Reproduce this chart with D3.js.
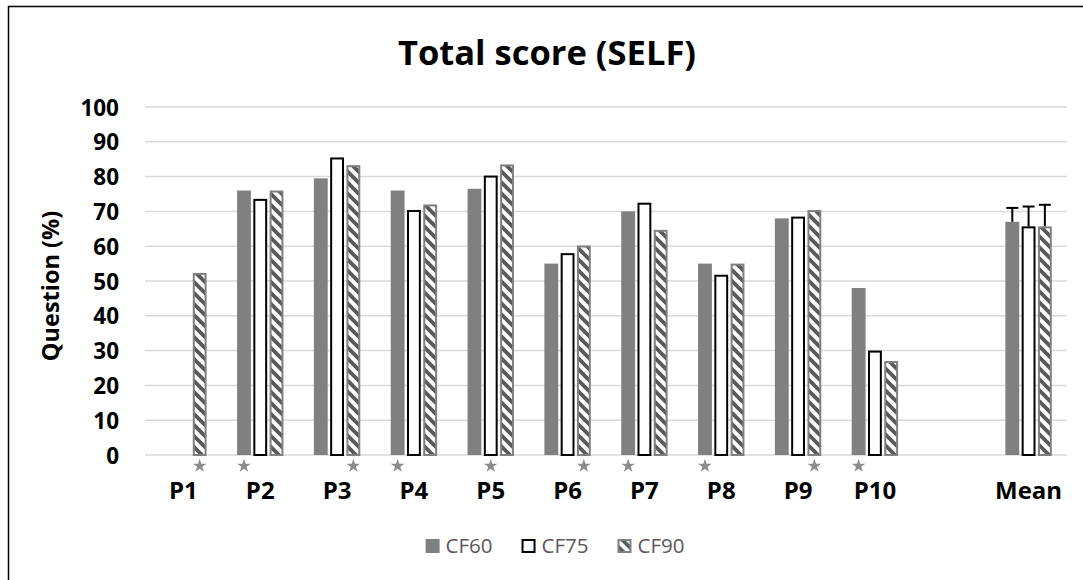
<!DOCTYPE html>
<html>
<head>
<meta charset="utf-8">
<script src="https://cdn.jsdelivr.net/npm/d3@7"></script>
<style>
  html, body { margin: 0; padding: 0; background: #fff; }
  svg { display: block; font-family: "Open Sans", "Noto Sans", sans-serif; }
</style>
</head>
<body>
<svg id="chart" width="1083" height="580"></svg>
<script>
// Question groups (an empty slot separates P10 from the mean)
const categories = ["P1", "P2", "P3", "P4", "P5", "P6", "P7", "P8", "P9", "P10", "", "Mean"];
const seriesNames = ["CF60", "CF75", "CF90"];

// Scores (%) per question; null where no bar is drawn
const cf60 = [null, 76.0, 79.5, 76.0, 76.5, 55.0, 70.0, 55.0, 68.0, 48.0, null, 67.0];
const cf75 = [null, 73.6, 85.5, 70.4, 80.3, 58.0, 72.5, 51.8, 68.5, 30.0, null, 65.7];
const cf90 = [52.3, 76.0, 83.3, 72.0, 83.5, 60.2, 64.7, 55.0, 70.4, 27.0, null, 65.7];

// Upper error on the mean bars
const meanError = [4.0, 5.7, 6.2];

// Series marked with a star under each question
const starSeries = ["CF90", "CF60", "CF90", "CF60", "CF75", "CF90", "CF60", "CF60", "CF90", "CF60"];

const yTicks = [0, 10, 20, 30, 40, 50, 60, 70, 80, 90, 100];

const svg = d3.select("#chart");
const plot = { left: 145, right: 1067, top: 107, bottom: 455 };

const seriesData = { CF60: cf60, CF75: cf75, CF90: cf90 };

// Hatch pattern for CF90 (wide downward diagonal)
const defs = svg.append("defs");
const pat = defs.append("pattern")
  .attr("id", "hatch")
  .attr("patternUnits", "userSpaceOnUse")
  .attr("width", 11).attr("height", 11);
pat.append("rect").attr("width", 11).attr("height", 11).attr("fill", "#fff");
pat.append("path")
  .attr("d", "M-5.5,5.5 L5.5,16.5 M0,0 L11,11 M5.5,-5.5 L16.5,5.5")
  .attr("stroke", "#595959").attr("stroke-width", 3.8);

// Chart frame
svg.append("rect")
  .attr("x", 8.5).attr("y", 6.5)
  .attr("width", 1200).attr("height", 700)
  .attr("fill", "#fff").attr("stroke", "#000").attr("stroke-width", 1.5);

const x = d3.scaleBand().domain(d3.range(categories.length))
  .range([plot.left, plot.right]).paddingInner(0).paddingOuter(0);
const xInner = d3.scaleBand().domain(seriesNames)
  .range([-23.2, 23.2]).paddingInner(0.15);
const y = d3.scaleLinear().domain([0, 100]).range([plot.bottom, plot.top]);

// Gridlines
svg.append("g").selectAll("line").data(yTicks).join("line")
  .attr("x1", plot.left).attr("x2", plot.right)
  .attr("y1", d => y(d)).attr("y2", d => y(d))
  .attr("stroke", "#d9d9d9").attr("stroke-width", 1.5);

// Y axis labels
const yAxis = d3.axisLeft(y).tickValues(yTicks).tickSize(0).tickPadding(0);
const gy = svg.append("g").attr("transform", `translate(119,0)`).call(yAxis);
gy.select(".domain").remove();
gy.selectAll("text")
  .attr("font-family", "'Open Sans', sans-serif")
  .attr("font-size", 22.5).attr("font-weight", "bold").attr("fill", "#000")
  .attr("dy", "0.36em");

// Y axis title
svg.append("text")
  .attr("transform", `translate(50,${(plot.top + plot.bottom) / 2 + 5}) rotate(-90)`)
  .attr("text-anchor", "middle").attr("dominant-baseline", "central")
  .attr("font-size", 23.5).attr("font-weight", "bold").attr("fill", "#000")
  .text("Question (%)");

// Title
svg.append("text")
  .attr("x", 547).attr("y", 65)
  .attr("text-anchor", "middle")
  .attr("font-size", 34.5).attr("font-weight", "bold").attr("fill", "#000")
  .text("Total score (SELF)");

// Bars
const barData = [];
categories.forEach((c, i) => {
  seriesNames.forEach(s => {
    const v = seriesData[s][i];
    if (v != null) barData.push({ i, s, v });
  });
});

const bars = svg.append("g");
bars.selectAll("rect").data(barData).join("rect")
  .attr("x", d => {
    const bx = x(d.i) + x.bandwidth() / 2 + xInner(d.s);
    return d.s === "CF60" ? bx : bx + 1;
  })
  .attr("width", d => d.s === "CF60" ? xInner.bandwidth() : xInner.bandwidth() - 2)
  .attr("y", d => d.s === "CF60" ? y(d.v) : y(d.v) + 1)
  .attr("height", d => d.s === "CF60" ? y(0) - y(d.v) : y(0) - y(d.v) - 1)
  .attr("fill", d => d.s === "CF60" ? "#808080" : d.s === "CF75" ? "#fff" : "url(#hatch)")
  .attr("stroke", d => d.s === "CF60" ? "none" : d.s === "CF75" ? "#000" : "#808080")
  .attr("stroke-width", 2);

// Error bars on the mean group
const meanIdx = categories.indexOf("Mean");
const errData = seriesNames.map((s, k) => ({ s, v: seriesData[s][meanIdx], e: meanError[k] }));
const eg = svg.append("g").attr("stroke", "#000").attr("stroke-width", 2);
errData.forEach(d => {
  const cx = x(meanIdx) + x.bandwidth() / 2 + xInner(d.s) + xInner.bandwidth() / 2;
  eg.append("line").attr("x1", cx).attr("x2", cx).attr("y1", y(d.v)).attr("y2", y(d.v + d.e));
  eg.append("line").attr("x1", cx - 6).attr("x2", cx + 6).attr("y1", y(d.v + d.e)).attr("y2", y(d.v + d.e));
});

// Stars under the axis
const star = d3.symbol().type(d3.symbolStar).size(58);
svg.append("g").selectAll("path").data(starSeries).join("path")
  .attr("d", star)
  .attr("transform", (s, i) => {
    const cx = x(i) + x.bandwidth() / 2 + xInner(s) + xInner.bandwidth() / 2;
    return `translate(${cx},${y(0) + 11})`;
  })
  .attr("fill", "#8c8c8c");

// Category labels
const xAxis = d3.axisBottom(x).tickFormat(i => categories[i]).tickSize(0).tickPadding(0);
const gx = svg.append("g").attr("transform", `translate(0,481)`).call(xAxis);
gx.select(".domain").remove();
gx.selectAll("text")
  .attr("font-family", "'Open Sans', sans-serif")
  .attr("font-size", 24).attr("font-weight", "bold").attr("fill", "#000")
  .attr("dy", "0.76em");

// Legend
const legend = svg.append("g");
const legendItems = legend.selectAll("g").data(seriesNames).join("g");
legendItems.append("rect")
  .attr("width", d => d === "CF60" ? 14 : 12)
  .attr("height", d => d === "CF60" ? 14 : 12)
  .attr("x", d => d === "CF60" ? 0 : 1)
  .attr("y", d => d === "CF60" ? -7 : -6)
  .attr("fill", d => d === "CF60" ? "#808080" : d === "CF75" ? "#fff" : "url(#hatch)")
  .attr("stroke", d => d === "CF60" ? "none" : d === "CF75" ? "#000" : "#808080")
  .attr("stroke-width", 2);
legendItems.append("text")
  .attr("x", 20).attr("dy", "0.36em")
  .attr("font-size", 20.5).attr("fill", "#595959")
  .text(d => d);
let lx = 0;
legendItems.each(function () {
  d3.select(this).attr("transform", `translate(${lx},0)`);
  const tw = d3.select(this).select("text").node().getComputedTextLength();
  lx += 20 + tw + 29;
});
const legendWidth = lx - 29;
legend.attr("transform", `translate(${555 - legendWidth / 2},546)`);
</script>
</body>
</html>
